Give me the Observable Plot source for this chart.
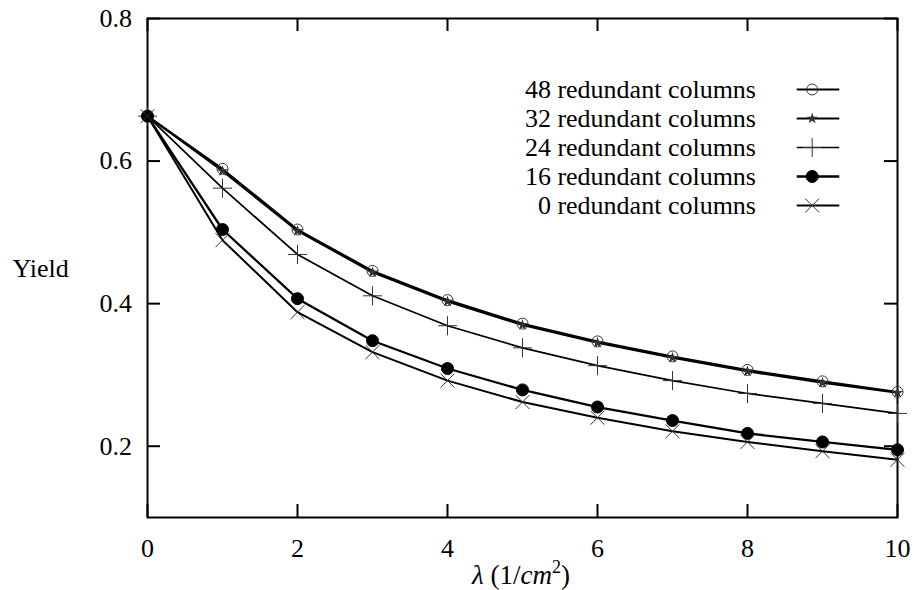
<!DOCTYPE html>
<html>
<head>
<meta charset="utf-8">
<script src="https://cdn.jsdelivr.net/npm/d3@7"></script>
<script src="https://cdn.jsdelivr.net/npm/@observablehq/plot@0.6"></script>
<style>
  html, body { margin: 0; padding: 0; background: #fff; }
  #chart svg { display: block; }
</style>
</head>
<body>
<div id="chart"></div>
<script>
// ---- data ----
const lambda = [0, 1, 2, 3, 4, 5, 6, 7, 8, 9, 10];
const yield48 = [0.663, 0.589, 0.504, 0.446, 0.405, 0.372, 0.347, 0.326, 0.307, 0.291, 0.276];
const yield32 = [0.663, 0.586, 0.502, 0.444, 0.403, 0.370, 0.345, 0.324, 0.305, 0.289, 0.275];
const yield24 = [0.663, 0.562, 0.469, 0.411, 0.369, 0.338, 0.313, 0.292, 0.274, 0.260, 0.246];
const yield16 = [0.663, 0.504, 0.407, 0.348, 0.309, 0.279, 0.255, 0.236, 0.218, 0.206, 0.195];
const yield0  = [0.663, 0.489, 0.388, 0.332, 0.292, 0.262, 0.240, 0.221, 0.206, 0.193, 0.181];
const seriesLabels = ["48 redundant columns", "32 redundant columns", "24 redundant columns", "16 redundant columns", "0 redundant columns"];
const xTicks = [0, 2, 4, 6, 8, 10];
const yTicks = [0.2, 0.4, 0.6, 0.8];
const yLabel = "Yield";
const xLabel = "λ (1/cm2)";

// ---- layout ----
const W = 914, H = 590;
const mL = 147, mR = 17, mT = 18, mB = 73;
const plotW = W - mL - mR, plotH = H - mT - mB;
const tickLen = 13;
const markerStroke = "#333";
const FONT = "'Liberation Serif', 'Times New Roman', Tinos, 'DejaVu Serif', serif";

const seriesDefs = [
  {values: yield48, label: seriesLabels[0], symbol: "circle", r: 5.5, fill: "none", stroke: markerStroke, sw: 2},
  {values: yield32, label: seriesLabels[1], symbol: "star", r: 3.6, fill: "#333", stroke: "none", sw: 2},
  {values: yield24, label: seriesLabels[2], symbol: "plus", r: 6.2, fill: "none", stroke: markerStroke, sw: 1.7},
  {values: yield16, label: seriesLabels[3], symbol: "circle", r: 6, fill: "#000", stroke: "#000", sw: 2.3},
  {values: yield0,  label: seriesLabels[4], symbol: "times", r: 6.4, fill: "none", stroke: markerStroke, sw: 2}
];

const marks = [];
marks.push(Plot.ruleX(xTicks, {x: d => d, insetTop: plotH - tickLen, stroke: "#000", strokeWidth: 2}));
marks.push(Plot.ruleX(xTicks, {x: d => d, insetBottom: plotH - tickLen, stroke: "#000", strokeWidth: 2}));
marks.push(Plot.ruleY(yTicks, {y: d => d, insetRight: plotW - tickLen, stroke: "#000", strokeWidth: 2}));
marks.push(Plot.ruleY(yTicks, {y: d => d, insetLeft: plotW - tickLen, stroke: "#000", strokeWidth: 2}));
marks.push(Plot.frame({stroke: "#000", strokeWidth: 2}));

// tick labels positioned by the scales
marks.push(Plot.text(xTicks, {x: d => d, text: d => String(d), frameAnchor: "bottom", dy: 21, lineAnchor: "top", fontSize: 26, fontFamily: FONT}));
marks.push(Plot.text(yTicks, {y: d => d, text: d => d.toFixed(1), frameAnchor: "left", dx: -15.5, textAnchor: "end", lineAnchor: "middle", fontSize: 26, fontFamily: FONT}));

// axis titles
marks.push(Plot.text([yLabel], {text: d => d, frameAnchor: "left", dx: -135, dy: 1, textAnchor: "start", fontSize: 26, fontFamily: FONT}));
marks.push(Plot.text([xLabel], {text: d => d, frameAnchor: "bottom", dx: -1.5, dy: 66, lineAnchor: "bottom", textAnchor: "middle", fontSize: 27, fontFamily: FONT}));

// series lines and markers
seriesDefs.forEach(s => {
  const rows = lambda.map((x, i) => ({x, y: s.values[i]}));
  marks.push(Plot.line(rows, {x: "x", y: "y", stroke: "#000", strokeWidth: s.sw, curve: "linear"}));
});
seriesDefs.forEach(s => {
  const rows = lambda.map((x, i) => ({x, y: s.values[i]}));
  marks.push(Plot.dot(rows, {x: "x", y: "y", symbol: () => s.symbol, r: s.r, fill: s.fill, stroke: s.stroke, strokeWidth: 1}));
});

// legend (top-right, inside the frame)
const legendTextRight = 141.5;
const legendRow0 = 71, legendRowGap = 29;
const sampleL = 796.7 - mL, sampleR = (W - mR) - 839.3;
const sampleMarkerDx = -((W - mR) - 811.7);
seriesDefs.forEach((s, i) => {
  const dy = legendRow0 + i * legendRowGap;
  marks.push(Plot.text([s.label], {text: d => d, frameAnchor: "top-right", dx: -legendTextRight, dy, textAnchor: "end", lineAnchor: "middle", fontSize: 26, fontFamily: FONT}));
  marks.push(Plot.ruleY([0.8], {dy, insetLeft: sampleL, insetRight: sampleR, stroke: "#000", strokeWidth: s.sw}));
  marks.push(Plot.dot([0], {frameAnchor: "top-right", dx: sampleMarkerDx, dy, symbol: () => s.symbol, r: s.r, fill: s.fill, stroke: s.stroke, strokeWidth: 1}));
});

const chart = Plot.plot({
  width: W,
  height: H,
  marginLeft: mL,
  marginRight: mR,
  marginTop: mT,
  marginBottom: mB,
  style: {fontFamily: FONT, background: "#fff", color: "#000"},
  x: {domain: [0, 10], axis: null},
  y: {domain: [0.1, 0.8], axis: null},
  marks
});
document.getElementById("chart").appendChild(chart);
d3.select(chart).attr("font-family", FONT);

// rich formatting for the x-axis title (italic λ and cm, superscript 2)
d3.select(chart).selectAll("text").filter(function () { return this.textContent === xLabel; }).each(function () {
  const t = d3.select(this);
  t.text(null);
  t.append("tspan").attr("font-style", "italic").text("λ");
  t.append("tspan").text(" (1/");
  t.append("tspan").attr("font-style", "italic").text("cm");
  t.append("tspan").attr("font-size", 18).attr("dy", -11).text("2");
  t.append("tspan").attr("dy", 11).text(")");
});
</script>
</body>
</html>
